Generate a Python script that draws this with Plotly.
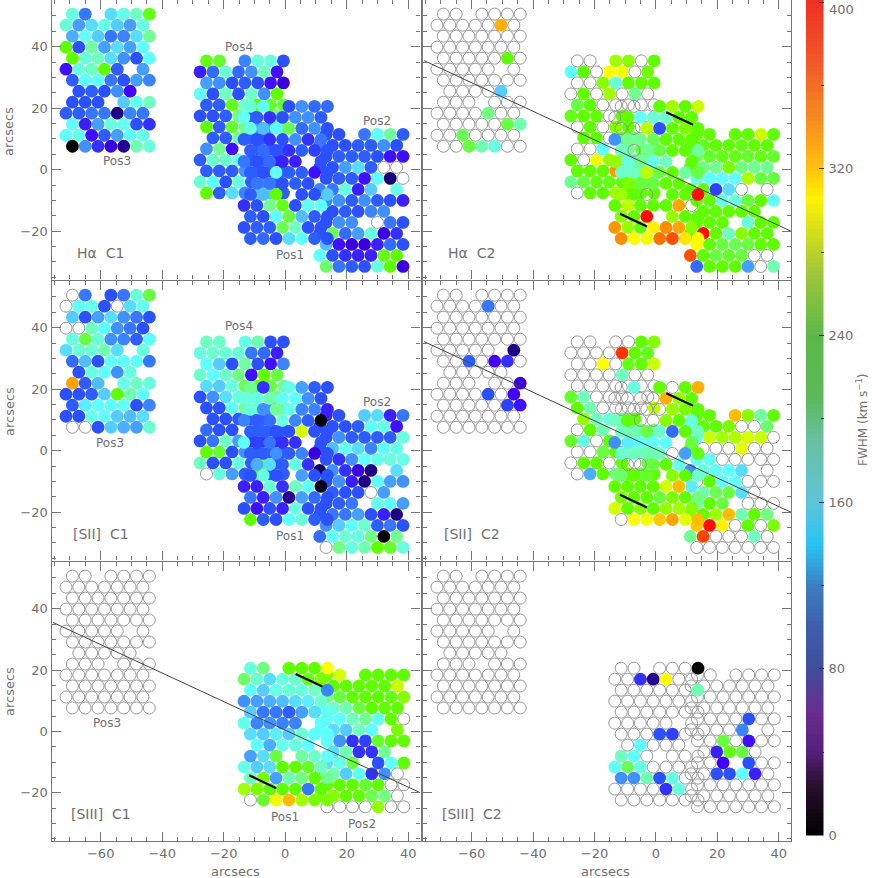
import plotly.graph_objects as go

_ = None  # fibre observed but no measurement: hollow circle
X = float("nan")  # fibre not drawn at all

# FWHM values (km/s), one table per IFU position, 13 rows x 7 fibres
HA_C1_POS3 = [
    [175, 115, _, 150, 170, 190, 235],
    [180, 130, 150, 170, 145, 130, 175],
    [135, 165, 145, 115, 120, 150, 205],
    [240, 100, 200, 130, 150, 130, 160],
    [240, 175, 190, 150, 125, 100, 160],
    [80, 175, 190, 240, 105, _, 130],
    [105, 160, 160, 115, 100, 130, 120],
    [_, 100, 105, 100, 125, 75, _],
    [100, 100, 100, _, 145, 170, 190],
    [105, 105, 115, 115, 50, 120, 115],
    [160, 85, 130, 175, 170, 100, 90],
    [160, 170, 80, 105, 130, 160, 170],
    [0, 125, 90, 70, 55, 195, 175],
]
HA_C1_POS4 = [
    [235, 230, _, 120, 175, 175, 100],
    [85, 110, 180, 110, 125, 190, 80],
    [130, 125, 100, 105, 100, 80, 70],
    [165, 100, 190, 100, 185, 125, 240],
    [105, 105, 235, 180, 240, 230, 230],
    [100, 100, 105, 210, 105, 105, 210],
    [240, 105, 230, 205, 125, 125, 205],
    [_, 105, 105, 200, 105, 105, _],
    [125, 205, 80, _, 105, 105, 105],
    [105, 185, 185, 170, 105, 105, 85],
    [105, 105, 105, 125, 105, 105, 105],
    [180, 160, 100, 175, 105, 125, 105],
    [240, 105, 150, 120, 145, 145, 105],
]
HA_C1_POS1 = [
    [180, 160, _, 100, 125, 110, 110],
    [165, 105, 90, 100, 125, 125, 105],
    [175, 140, 160, 220, 110, 125, 100],
    [105, 100, 90, 100, 125, 90, 115],
    [105, 110, 100, 90, 105, 95, 100],
    [115, 100, 110, 85, 85, _, 100],
    [105, 100, 165, 105, 105, 80, 100],
    [_, 115, 115, 100, 105, 100, _],
    [105, 140, 240, _, 100, 100, 145],
    [90, 100, 205, 235, 100, 165, 160],
    [105, 100, 160, 225, 140, 105, 100],
    [100, 105, 105, 220, 190, 100, 100],
    [105, 110, 100, 150, 160, 105, 100],
]
HA_C1_POS2 = [
    [100, 100, _, 115, 165, 200, 105],
    [115, 100, 100, 105, 105, 125, 100],
    [100, 105, 105, 105, 100, 80, 80],
    [100, 100, 130, 150, 105, _, _],
    [100, 105, 105, 80, 160, 45, _],
    [120, 115, 175, 85, 145, _, 170],
    [120, 125, 105, 125, 105, 100, 85],
    [_, 100, 105, 100, 120, 125, _],
    [100, 125, 125, _, _, 115, 100],
    [100, 220, 110, 130, 175, 70, 90],
    [140, 80, 70, 70, 85, 110, 100],
    [160, 100, 90, 85, 85, 235, 240],
    [215, 115, 105, 100, 175, 240, 70],
]

HA_C2_POS3 = [
    [_, _, _, _, _, _, _],
    [_, _, _, _, _, 330, _],
    [_, _, _, _, _, _, _],
    [_, _, _, _, _, _, _],
    [_, _, _, _, _, 240, _],
    [_, _, _, _, _, _, _],
    [_, _, _, _, _, _, _],
    [_, _, _, _, _, 145, _],
    [_, _, _, _, _, _, _],
    [_, _, _, _, 210, _, _],
    [_, _, _, _, _, 225, 195],
    [_, _, 220, _, _, _, _],
    [_, _, 225, 195, 175, _, _],
]
HA_C2_POS4 = [
    [_, _, _, 265, 255, _, 240],
    [160, 240, _, 300, 295, _, 245],
    [_, _, 255, 180, 240, 240, 240],
    [_, 240, _, 265, _, 205, _],
    [225, 240, _, _, _, _, _],
    [235, 240, 240, _, 240, _, _],
    [_, 240, _, 255, 240, _, _],
    [_, 240, 240, _, 230, 205, _],
    [_, _, 160, _, 205, 225, 205],
    [240, _, 295, 260, 265, 190, 190],
    [240, 240, 240, 340, 190, 205, 205],
    [205, 225, 235, 235, 240, 260, 225],
    [_, 240, 240, 265, 240, 240, 240],
]
HA_C2_POS1 = [
    [_, _, _, 240, 265, 240, 280],
    [_, 240, 165, 180, 185, 240, 240],
    [_, _, 275, 100, 240, 250, 240],
    [125, 205, 205, 220, 240, 240, 240],
    [190, _, 205, 225, 240, 240, 200],
    [260, 175, 205, 170, 190, _, 240],
    [185, 190, 275, 225, 240, 200, 225],
    [_, 250, 225, 225, 240, 240, _],
    [265, 240, _, _, 240, 240, 395],
    [240, 275, 240, 240, 240, 335, _],
    [255, 240, 395, X, 260, 240, 240],
    [340, 260, 240, 305, 345, 335, 255],
    [345, 300, 295, 355, 370, 310, 300],
]
HA_C2_POS2 = [
    [240, 240, _, 240, 240, 280, 240],
    [240, 235, 240, 240, 235, 240, 240],
    [220, 230, 235, 235, 230, 235, 230],
    [240, 210, 205, 250, 210, 205, 205],
    [175, 160, 160, 160, 270, 225, 225],
    [240, 240, 95, 150, _, _, _],
    [240, 240, 175, 175, 225, 240, 165],
    [_, 240, 240, 240, 240, 240, _],
    [240, 240, 240, _, 180, 240, 240],
    [240, 395, 240, 190, 255, 240, 240],
    [300, 240, 225, 220, 225, 240, 240],
    [370, 240, 225, 230, 225, _, _],
    [110, 240, 240, 240, 130, _, 195],
]

SII_C1_POS3 = [
    [_, 115, _, 100, 115, 180, 225],
    [_, 160, 170, 100, _, 150, 165],
    [145, 100, 130, 150, 125, 115, 100],
    [_, _, 190, 160, 125, 115, 100],
    [175, 225, 180, 125, 120, 105, 160],
    [150, 180, 180, 195, 150, _, 175],
    [110, 140, 100, 160, 160, 160, 115],
    [_, 100, 175, 160, 125, 175, _],
    [335, 105, 140, _, 170, 190, 175],
    [100, 100, 105, 145, 240, 195, 160],
    [105, 155, 160, 160, 165, 100, 120],
    [100, 100, 170, 160, 145, 140, 150],
    [_, _, 100, 145, 135, 130, 180],
]
SII_C1_POS4 = [
    [190, 185, _, 170, 195, 100, 100],
    [175, 185, 180, 180, 115, 110, 85],
    [160, 145, 100, 200, 100, 80, 120],
    [185, 160, 185, 210, 80, 240, 225],
    [150, 145, 175, 220, 230, 225, 200],
    [100, 125, 150, 175, 170, 105, 205],
    [100, 100, 160, 205, 190, 125, 210],
    [_, 100, 100, 105, 105, 105, _],
    [110, 100, 100, _, 105, 105, 105],
    [100, 115, 190, 130, 90, 90, 90],
    [240, 230, 100, 125, 105, 105, 105],
    [190, 100, 100, 175, 105, 225, 105],
    [_, 175, 130, 105, 235, 105, 105],
]
SII_C1_POS1 = [
    [205, 90, _, 170, 130, 105, 100],
    [175, 175, 195, 165, 160, 125, 100],
    [175, 125, 205, 170, 120, 120, 85],
    [120, 105, 110, 175, 120, 105, 0],
    [105, 105, 100, 100, 285, 100, 100],
    [160, 95, 115, 90, 90, _, 100],
    [105, 105, 125, 105, 120, 70, 100],
    [_, 135, 150, 105, 175, 90, _],
    [100, 175, 100, _, 130, 100, 100],
    [85, 85, 180, 90, 190, 160, 10],
    [115, 85, 125, 55, 130, 110, 100],
    [100, 80, 100, 85, 175, 100, 100],
    [240, 105, 100, 160, 180, 105, 100],
]
SII_C1_POS2 = [
    [85, 100, _, 145, 150, 85, 115],
    [100, 100, 100, 105, 160, 170, 80],
    [100, 125, 105, 105, 105, 105, 175],
    [100, 140, 165, 150, 120, 160, 170],
    [100, 90, 125, 160, 170, 175, 170],
    [35, 125, 90, 70, 50, _, 150],
    [100, 125, 85, 50, 160, 130, 125],
    [_, 105, 100, 100, _, 130, _],
    [100, 105, 115, _, 170, 160, 130],
    [100, 115, 115, 130, 100, 85, 50],
    [125, 145, 160, 185, 105, 115, 100],
    [110, 160, 180, 175, 210, 0, 205],
    [_, 210, 175, 195, 240, 230, 175],
]

SII_C2_POS3 = [
    [_, _, _, _, _, _, _],
    [_, _, _, _, 115, _, _],
    [_, _, _, _, _, _, _],
    [_, _, _, _, _, _, _],
    [_, _, _, _, _, _, _],
    [_, _, _, _, _, _, 50],
    [_, _, 105, _, 75, 90, _],
    [_, _, _, _, _, _, _],
    [_, _, _, _, _, _, 70],
    [_, _, _, _, 100, _, 75],
    [_, _, _, _, _, 95, 80],
    [_, _, _, _, _, _, _],
    [_, _, _, _, _, _, _],
]
SII_C2_POS4 = [
    [_, _, _, _, _, 240, 255],
    [_, _, _, _, 380, 240, 235],
    [_, _, 300, _, 235, 240, 280],
    [_, _, _, _, 190, _, _],
    [_, _, _, _, _, _, _],
    [230, 190, _, _, _, _, _],
    [240, 195, _, _, _, _, 275],
    [_, 260, 190, 175, 205, 240, _],
    [_, 240, 195, _, 205, 205, 205],
    [230, 175, _, 240, _, 160, 190],
    [_, _, 225, 240, 190, 190, 190],
    [_, 240, 240, _, 240, _, 225],
    [_, 135, 240, 210, 240, 225, 240],
]
SII_C2_POS1 = [
    [_, 175, _, 240, _, 240, 330],
    [_, _, _, _, 330, 260, 240],
    [_, _, _, _, 260, 250, 240],
    [190, 240, _, _, 255, 240, 175],
    [190, 195, 225, 185, 110, 240, 190],
    [125, 155, 165, 165, 160, _, 225],
    [185, 190, 195, 190, _, 130, 235],
    [_, _, _, 225, 240, 170, _],
    [215, 240, 230, _, 255, 240, 185],
    [240, 240, 240, 240, 285, 325, 155],
    [250, 240, 240, 225, 250, 240, 210],
    [285, 240, 255, 240, 260, 265, 255],
    [_, 300, 295, 320, 335, 290, 325],
]
SII_C2_POS2 = [
    [240, 240, _, 325, 255, 200, 240],
    [175, 240, 240, 250, _, _, 215],
    [170, 280, 265, 270, 285, 280, _],
    [235, _, _, _, 290, _, _],
    [165, 165, _, _, _, _, _],
    [125, 175, 165, 160, 150, _, _],
    [_, 240, 160, 160, _, _, _],
    [_, 195, 220, 225, 150, _, _],
    [200, 240, 225, _, _, _, _],
    [255, 240, 265, 325, 195, 240, 210],
    [320, 395, 305, _, 240, _, 250],
    [205, 375, _, _, _, 190, _],
    [_, _, _, _, _, _, _],
]

SIII_C1_POS3 = [
    [_, _, _, _, _, _, _],
    [_, _, _, _, _, _, _],
    [_, _, _, _, _, _, _],
    [_, _, _, _, _, _, _],
    [_, _, _, _, _, _, _],
    [_, _, _, _, _, _, _],
    [_, _, _, _, _, _, _],
    [_, _, _, _, _, _, _],
    [_, _, _, _, _, _, _],
    [_, _, _, _, _, _, _],
    [_, _, _, _, _, _, _],
    [_, _, _, _, _, _, _],
    [_, _, _, _, _, _, _],
]
SIII_C1_POS1 = [
    [175, 210, _, 240, 240, 240, 300],
    [215, 185, 150, 175, 185, 235, 250],
    [160, 145, 170, 180, 175, 190, 120],
    [125, 130, 135, 140, 150, 155, 180],
    [145, 115, 115, 105, 130, 150, 165],
    [170, 120, 125, 120, 120, _, 160],
    [150, 145, 155, 145, 180, 160, 160],
    [_, 160, 135, 170, 175, 160, _],
    [130, 150, 225, _, 200, 185, 165],
    [170, 145, 150, 240, 240, 230, 190],
    [190, 250, 130, 195, 210, 240, 205],
    [265, 250, 240, 240, 240, 115, 240],
    [_, 230, 295, 325, 265, 250, 250],
]
SIII_C1_POS2 = [
    [250, 285, _, 240, 240, 240, 240],
    [225, 240, 240, 240, 240, 240, 280],
    [210, 225, 240, 240, 240, 235, 255],
    [175, 185, 195, 225, 240, 240, 240],
    [165, 160, 190, 205, 165, 240, _],
    [160, 150, 145, 190, 160, _, 250],
    [160, 125, 90, 95, 230, 240, 240],
    [_, 150, 195, 90, 90, 205, _],
    [150, 170, 225, _, 100, 160, 240],
    [210, 195, 145, 160, 90, 125, _],
    [240, 240, 240, 230, 240, _, _],
    [250, 255, 240, 240, 220, 210, _],
    [_, _, _, _, 260, _, _],
]

SIII_C2_POS3 = SIII_C1_POS3
SIII_C2_POS1 = [
    [_, _, _, _, _, _, 0],
    [_, _, 90, 55, 300, _, _],
    [_, _, _, _, _, _, 195],
    [_, _, _, _, _, _, _],
    [_, _, _, _, _, _, _],
    [_, _, _, _, _, _, _],
    [_, _, _, 100, 95, _, _],
    [_, _, 160, _, _, _, _],
    [190, 160, _, _, _, _, _],
    [165, 220, 175, _, _, _, _],
    [125, 125, 195, 100, 175, _, _],
    [_, _, _, _, 90, 175, _],
    [_, _, _, _, _, _, _],
]
SIII_C2_POS2 = [
    [_, _, _, _, _, _, _],
    [_, _, _, _, _, _, _],
    [_, _, _, _, _, _, _],
    [_, _, _, _, _, _, _],
    [_, _, _, _, 100, _, _],
    [_, _, _, _, 120, _, _],
    [_, _, 225, _, 80, _, _],
    [_, _, 85, 235, 225, _, _],
    [_, _, 75, _, 100, _, _],
    [_, _, 100, 100, 160, 85, _],
    [_, _, _, _, _, _, _],
    [_, _, _, _, _, _, _],
    [_, _, _, _, _, _, _],
]

# IFU geometry: first fibre of each position (arcsec)
POS3_ORIGIN = (-69.2, 50.6)
POS4_ORIGIN = (-25.6, 35.4)
POS1_ORIGIN = (-11.3, 20.6)
POS2_ORIGIN = (13.3, 11.5)
POS2_ORIGIN_SIII = (13.55, 18.4)
FIBRE_DX = 4.17
FIBRE_DY = 3.58
DEAD_FIBRES = {(0, 2), (5, 5), (7, 0), (7, 6), (8, 3)}

# Slit and its short aperture marks
SLIT_X = [-75.5, 44]
SLIT_Y = [35.5, -20]
APERTURE_A_X = [3.4, 12.1]
APERTURE_A_Y = [18.7, 14.6]
APERTURE_B_X = [-11.7, -2.9]
APERTURE_B_Y = [-14.3, -18.5]

# colour scale used for the fibres, and the duller one seen in the bar
FIBRE_STOPS = [0, 40, 60, 75, 100, 125, 145, 160, 190, 210, 240, 265, 300, 330, 370, 400]
FIBRE_COLOURS = ["#000000", "#14006a", "#2a00a0", "#4400ff", "#2a50ff", "#4090ff", "#55ccff",
                 "#60ffff", "#70ffc0", "#70ff80", "#60ff00", "#a0ff00", "#ffff00", "#ffb000",
                 "#ff5000", "#ff0000"]
BAR_STOPS = [0, 25, 40, 60, 80, 100, 120, 140, 160, 190, 210, 240, 270, 306, 320, 340, 370, 400]
BAR_COLOURS = ["#000000", "#2a1030", "#55207a", "#6a2d90", "#3f4d9c", "#3f5eaa", "#3c7fc0",
               "#29c4f4", "#5fc4d8", "#6ac0a0", "#5cb85c", "#5bb847", "#a0c63c", "#fff200",
               "#ffc20e", "#f7941d", "#f15a29", "#ee3124"]
BAR_VALUES = list(range(0, 401, 2))
BAR_TICKS = [0, 80, 160, 240, 320, 400]
BAR_TICK_TEXT = ["0", "80", "160", "240", "320", ""]

W, H = 872, 878
TEXT = "#707070"
FONT = "DejaVu Sans"
AXIS_X = [(51.5, 420.5), (422.5, 791)]
AXIS_Y = [(0, 279.5), (281, 560.5), (562, 841)]


def scale(stops, colours):
    return [[s / 400, c] for s, c in zip(stops, colours)]


def fibres(table, origin):
    """Split a position into measured and hollow fibres."""
    xs, ys, vals, hx, hy = [], [], [], [], []
    for r, row in enumerate(table):
        for c, v in enumerate(row):
            if (r, c) in DEAD_FIBRES or v != v:
                continue
            x = origin[0] + c * FIBRE_DX - (FIBRE_DX / 2 if r % 2 else 0)
            y = origin[1] - r * FIBRE_DY
            if v is None:
                hx.append(x)
                hy.append(y)
            else:
                xs.append(x)
                ys.append(y)
                vals.append(v)
    return xs, ys, vals, hx, hy


# positions are listed in drawing order: Pos1 ends up on top
panels = [
    dict(row=0, col=0, label="H\u03b1  C1", slit=False,
         pos=[(HA_C1_POS3, POS3_ORIGIN), (HA_C1_POS4, POS4_ORIGIN), (HA_C1_POS2, POS2_ORIGIN), (HA_C1_POS1, POS1_ORIGIN)],
         notes=[("Pos3", -54.6, 3), ("Pos4", -15, 40), ("Pos2", 30, 16), ("Pos1", 1.6, -27.7)]),
    dict(row=0, col=1, label="H\u03b1  C2", slit=True,
         pos=[(HA_C2_POS3, POS3_ORIGIN), (HA_C2_POS4, POS4_ORIGIN), (HA_C2_POS2, POS2_ORIGIN), (HA_C2_POS1, POS1_ORIGIN)],
         notes=[]),
    dict(row=1, col=0, label="[SII]  C1", slit=False,
         pos=[(SII_C1_POS3, POS3_ORIGIN), (SII_C1_POS4, POS4_ORIGIN), (SII_C1_POS2, POS2_ORIGIN), (SII_C1_POS1, POS1_ORIGIN)],
         notes=[("Pos3", -57, 2.6), ("Pos4", -15, 40.5), ("Pos2", 30, 16), ("Pos1", 1.6, -27.7)]),
    dict(row=1, col=1, label="[SII]  C2", slit=True,
         pos=[(SII_C2_POS3, POS3_ORIGIN), (SII_C2_POS4, POS4_ORIGIN), (SII_C2_POS2, POS2_ORIGIN), (SII_C2_POS1, POS1_ORIGIN)],
         notes=[]),
    dict(row=2, col=0, label="[SIII]  C1", slit=True,
         pos=[(SIII_C1_POS3, POS3_ORIGIN), (SIII_C1_POS2, POS2_ORIGIN_SIII), (SIII_C1_POS1, POS1_ORIGIN)],
         notes=[("Pos3", -58, 2.6), ("Pos1", 0, -28), ("Pos2", 25, -30)]),
    dict(row=2, col=1, label="[SIII]  C2", slit=False,
         pos=[(SIII_C2_POS3, POS3_ORIGIN), (SIII_C2_POS2, POS2_ORIGIN_SIII), (SIII_C2_POS1, POS1_ORIGIN)],
         notes=[]),
]

fig = go.Figure()
layout = dict(width=W, height=H, autosize=False, margin=dict(l=0, r=0, t=0, b=0, autoexpand=False),
              paper_bgcolor="white", plot_bgcolor="white", showlegend=False,
              font=dict(family=FONT, color=TEXT, size=13))
notes = []

for n, p in enumerate(panels, start=1):
    ax = "" if n == 1 else str(n)
    x0, x1 = AXIS_X[p["col"]]
    y0, y1 = AXIS_Y[p["row"]]
    layout["xaxis" + ax] = dict(
        domain=[x0 / W, x1 / W], range=[-76, 44], anchor="y" + ax,
        ticks="inside", ticklen=9, tickwidth=1,
        tickcolor="#777777", minor=dict(dtick=5, tick0=0, ticks="inside", ticklen=4, tickcolor="#777777"),
        showgrid=False, zeroline=False, showline=True, mirror="allticks", linecolor="#777777", linewidth=1.2,
        showticklabels=p["row"] == 2, tickfont=dict(size=13, color=TEXT),
        tickvals=[-60, -40, -20, 0, 20, 40],
        ticktext=["\u221260", "\u221240", "\u221220", "0", "20", "40"], tickmode="array",
    )
    layout["yaxis" + ax] = dict(
        domain=[1 - y1 / H, 1 - y0 / H], range=[-35.7, 55.2], anchor="x" + ax,
        ticks="inside", ticklen=9, tickwidth=1,
        tickcolor="#777777", minor=dict(dtick=5, tick0=0, ticks="inside", ticklen=4, tickcolor="#777777"),
        showgrid=False, zeroline=False, showline=True, mirror="allticks", linecolor="#777777", linewidth=1.2,
        showticklabels=p["col"] == 0, tickfont=dict(size=13, color=TEXT),
        tickvals=[-20, 0, 20, 40],
        ticktext=["\u221220", "0", "20", "40"], tickmode="array",
    )
    for table, origin in p["pos"]:
        xs, ys, vals, hx, hy = fibres(table, origin)
        fig.add_trace(go.Scatter(
            x=xs, y=ys, mode="markers", xaxis="x" + ax, yaxis="y" + ax, hoverinfo="skip",
            marker=dict(size=12.8, color=vals, cmin=0, cmax=400, showscale=False,
                        colorscale=scale(FIBRE_STOPS, FIBRE_COLOURS), line=dict(width=0)),
        ))
        fig.add_trace(go.Scatter(
            x=hx, y=hy, mode="markers", xaxis="x" + ax, yaxis="y" + ax, hoverinfo="skip",
            marker=dict(size=12, color="rgba(0,0,0,0)", line=dict(width=0.9, color="#8c8c8c")),
        ))
    if p["slit"]:
        fig.add_trace(go.Scatter(x=SLIT_X, y=SLIT_Y, mode="lines", xaxis="x" + ax, yaxis="y" + ax,
                                 hoverinfo="skip", line=dict(color="#444444", width=1)))
        for ax_x, ax_y in ((APERTURE_A_X, APERTURE_A_Y), (APERTURE_B_X, APERTURE_B_Y)):
            fig.add_trace(go.Scatter(x=ax_x, y=ax_y, mode="lines", xaxis="x" + ax, yaxis="y" + ax,
                                     hoverinfo="skip", line=dict(color="black", width=2.2)))
    notes.append(dict(text=p["label"], x=-60, y=-27, xref="x" + ax, yref="y" + ax, showarrow=False,
                      font=dict(size=14, color=TEXT)))
    for text, tx, ty in p["notes"]:
        notes.append(dict(text=text, x=tx, y=ty, xref="x" + ax, yref="y" + ax, showarrow=False,
                          font=dict(size=12, color=TEXT)))

# axis titles sit outside the plot areas, so they go in as paper annotations
for px, py, angle in ((235, 871, 0), (605, 871, 0), (9, 132, -90), (9, 412, -90), (9, 692, -90)):
    notes.append(dict(text="arcsecs", x=px / W, y=1 - py / H, xref="paper", yref="paper", showarrow=False,
                      xanchor="center", yanchor="middle", textangle=angle, font=dict(size=13, color=TEXT)))

# colour bar drawn as its own little axis
fig.add_trace(go.Heatmap(
    x=[0, 1], y=BAR_VALUES, z=[[v, v] for v in BAR_VALUES], xaxis="x7", yaxis="y7", zmin=0, zmax=400,
    colorscale=scale(BAR_STOPS, BAR_COLOURS), showscale=False, hoverinfo="skip",
))
layout["xaxis7"] = dict(domain=[806 / W, 823.5 / W], range=[0, 1], anchor="y7", showticklabels=False,
                        ticks="", showgrid=False, zeroline=False)
layout["yaxis7"] = dict(domain=[1 - 835.5 / H, 1], range=[0, 401], anchor="x7", side="right",
                        tickmode="array", tickvals=BAR_TICKS, ticktext=BAR_TICK_TEXT, ticklabelstandoff=4,
                        ticks="inside", ticklen=5, tickcolor="#333333",
                        minor=dict(dtick=40, tick0=0, ticks="inside", ticklen=3, tickcolor="#333333"),
                        showgrid=False, zeroline=False, tickfont=dict(size=13, color=TEXT))
# top label would be cut by the page edge as a tick label
notes.append(dict(text="400", x=841 / W, y=1 - 10 / H, xref="paper", yref="paper", showarrow=False,
                  xanchor="center", yanchor="middle", font=dict(size=13, color=TEXT)))
notes.append(dict(text="FWHM (km s<sup>\u22121</sup>)", x=862 / W, y=1 - 420 / H, xref="paper", yref="paper",
                  xanchor="center", yanchor="middle", textangle=-90, showarrow=False, font=dict(size=12, color=TEXT)))

layout["annotations"] = notes
fig.update_layout(**layout)
fig.write_html("out.html", config=dict(displayModeBar=False), post_script="document.body.style.margin='0';")
